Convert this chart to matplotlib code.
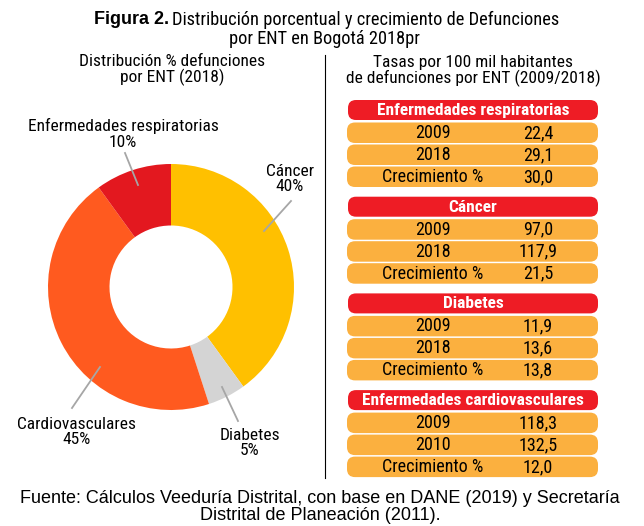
import matplotlib
matplotlib.use('Agg')
from matplotlib import pyplot as plt
from matplotlib.patches import FancyBboxPatch

# Donut data (clockwise from the top)
categories = ['Cáncer', 'Diabetes', 'Cardiovasculares', 'Enfermedades respiratorias']
shares = [40, 5, 45, 10]
colors = ['#FFC000', '#D4D4D4', '#FF5A1F', '#E3181F']

# Rate table
block_titles = ['Enfermedades respiratorias', 'Cáncer', 'Diabetes',
                'Enfermedades cardiovasculares']
block_rows = [['2009', '2018', 'Crecimiento %'],
              ['2009', '2018', 'Crecimiento %'],
              ['2009', '2018', 'Crecimiento %'],
              ['2009', '2010', 'Crecimiento %']]
block_values = [[22.4, 29.1, 30.0],
                [97.0, 117.9, 21.5],
                [11.9, 13.6, 13.8],
                [118.3, 132.5, 12.0]]

NARROW = ['Roboto Condensed', 'DejaVu Sans']
SANS = ['Liberation Sans', 'DejaVu Sans']

W, H = 644, 526
fig = plt.figure(figsize=(W / 100, H / 100), dpi=100)

# Pie axes: centre (171, 287) px, radius 123 px
cx, cy, r = 171, 287, 123
pax = fig.add_axes([(cx - r) / W, (H - cy - r) / H, 2 * r / W, 2 * r / H])
pax.pie(shares, colors=colors, startangle=90, counterclock=False, radius=1,
        wedgeprops=dict(width=0.5, edgecolor='none'))
pax.set_xlim(-1, 1)
pax.set_ylim(-1, 1)
pax.axis('off')

# Overlay axes in pixel coordinates
ax = fig.add_axes([0, 0, 1, 1])
ax.set_xlim(0, W)
ax.set_ylim(H, 0)
ax.axis('off')
ax.patch.set_alpha(0)

# Title
ax.text(169, 20, 'Figura 2.', ha='right', va='center', fontsize=13,
        fontweight='bold', family=SANS)
ax.text(172, 20, 'Distribución porcentual y crecimiento de Defunciones',
        ha='left', va='center', fontsize=13.2, family=NARROW)
ax.text(324, 39, 'por ENT en Bogotá 2018pr', ha='center', va='center',
        fontsize=13.2, family=NARROW)

# Panel subtitles
ax.text(172, 70, 'Distribución % defunciones\npor ENT (2018)', ha='center',
        va='center', fontsize=12.5, family=NARROW, linespacing=1.05)
ax.text(473, 71, 'Tasas por 100 mil habitantes\nde defunciones por ENT (2009/2018)',
        ha='center', va='center', fontsize=12.5, family=NARROW, linespacing=1.05)

# Divider
ax.plot([325, 325], [55, 478], color='black', lw=0.8)

# Donut labels with leader lines (pixel layout)
label_pos = [(290, 179), (250, 443), (77, 432), (123, 134)]
line_pts = [((264, 231), (291, 201)), ((222, 387), (238, 421)),
            ((100, 367), (72, 408)), ((138, 185), (125, 153))]
for name, share, (lx, ly), (p0, p1) in zip(categories, shares, label_pos, line_pts):
    ax.text(lx, ly, f'{name}\n{share}%', ha='center', va='center',
            fontsize=12.5, family=NARROW, linespacing=1.05)
    ax.plot([p0[0], p1[0]], [p0[1], p1[1]], color='#A6A6A6', lw=1.3)

# Table
x0, x1 = 347, 598
top0, pitch = 100, 96.7
for i, (title, rows, vals) in enumerate(zip(block_titles, block_rows, block_values)):
    top = top0 + i * pitch
    ax.add_patch(FancyBboxPatch((x0 + 1, top), x1 - x0 - 1, 20,
                                boxstyle='round,pad=0,rounding_size=8',
                                fc='#EE1C25', ec='none'))
    ax.text(473, top + 10.5, title, ha='center', va='center', fontsize=12.5,
            fontweight='bold', color='white', family=NARROW)
    for j, (lab, v) in enumerate(zip(rows, vals)):
        ry = top + 22.5 + j * 22
        ax.add_patch(FancyBboxPatch((x0, ry), x1 - x0, 20.5,
                                    boxstyle='round,pad=0,rounding_size=8',
                                    fc='#FBB03F', ec='none'))
        ax.text(433, ry + 10.5, lab, ha='center', va='center', fontsize=13,
                family=NARROW)
        ax.text(538, ry + 10.5, f'{v:.1f}'.replace('.', ','), ha='center',
                va='center', fontsize=13, family=NARROW)

# Source
ax.text(320, 507, 'Fuente: Cálculos Veeduría Distrital, con base en DANE (2019) y Secretaría\n'
        'Distrital de Planeación (2011).', ha='center', va='center',
        fontsize=13, family=SANS, linespacing=1.0)

fig.savefig('out.png', dpi=100, facecolor='white')
